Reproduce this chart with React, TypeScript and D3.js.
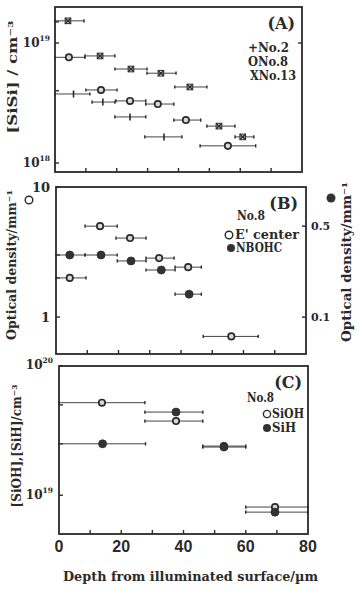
import * as d3 from 'd3'

// depth axis (µm)
const depthTicks = [0, 20, 40, 60, 80]
const depthMinor = [10, 20, 30, 40, 50, 60, 70]

// (A) [SiSi] / cm^-3   x = centre, lo/hi = slab limits
const sisiNo2 = [
  { x: 6, lo: 0, hi: 11.3, y: 3.76e18 },
  { x: 15.5, lo: 12, hi: 19.4, y: 3.22e18 },
  { x: 24.3, lo: 19.4, hi: 29.4, y: 2.42e18 },
  { x: 35.3, lo: 29.1, hi: 41.1, y: 1.65e18 },
]
const sisiNo8 = [
  { x: 4.5, lo: 0, hi: 9.7, y: 7.6e18 },
  { x: 14.9, lo: 10, hi: 20.1, y: 4.06e18 },
  { x: 24.3, lo: 19.7, hi: 29.4, y: 3.29e18 },
  { x: 33.3, lo: 29.4, hi: 38.5, y: 3.1e18 },
  { x: 42.4, lo: 38.5, hi: 47.2, y: 2.28e18 },
  { x: 56, lo: 47, hi: 65, y: 1.39e18 },
]
const sisiNo13 = [
  { x: 4.2, lo: 0, hi: 9.4, y: 1.53e19 },
  { x: 14.6, lo: 9.7, hi: 19.4, y: 7.8e18 },
  { x: 24.6, lo: 19.4, hi: 29.8, y: 6.07e18 },
  { x: 34.3, lo: 29.8, hi: 39.2, y: 5.6e18 },
  { x: 43.7, lo: 38.8, hi: 49.2, y: 4.3e18 },
  { x: 53.1, lo: 49.2, hi: 58.3, y: 2.03e18 },
  { x: 60.8, lo: 58.3, hi: 64.4, y: 1.65e18 },
]
const sisiTicks = [1e18, 1e19]
const sisiMinor = [4e18, 1.5e19]

// (B) optical density / mm^-1
const eCenter = [
  { x: 4.4, lo: 0, hi: 9.6, y: 2.0 },
  { x: 14.1, lo: 9.3, hi: 19.6, y: 5.0 },
  { x: 23.7, lo: 19.2, hi: 28.8, y: 4.05 },
  { x: 33, lo: 28.8, hi: 37.8, y: 2.84 },
  { x: 42.3, lo: 38.1, hi: 46.5, y: 2.42 },
  { x: 56.1, lo: 47.1, hi: 64.7, y: 0.71 },
]
const nbohc = [
  { x: 4.4, lo: 0, hi: 9.3, y: 0.3 },
  { x: 14.4, lo: 9.3, hi: 19.6, y: 0.3 },
  { x: 24, lo: 19.6, hi: 28.8, y: 0.27 },
  { x: 33.7, lo: 28.8, hi: 38.1, y: 0.23 },
  { x: 42.6, lo: 38.1, hi: 46.5, y: 0.15 },
]
const odLeftTicks = [1, 10]
const odLeftMinor = [2, 3]
const odRightTicks = [0.1, 0.5]

// (C) [SiOH], [SiH] / cm^-3
const sioh = [
  { x: 13.8, lo: 0, hi: 27.6, y: 5.2e19 },
  { x: 37.6, lo: 27.6, hi: 46.2, y: 3.75e19 },
  { x: 53, lo: 46.2, hi: 60, y: 2.4e19 },
  { x: 69.4, lo: 60, hi: 80, y: 8.1e18 },
]
const sih = [
  { x: 14, lo: 0, hi: 27.8, y: 2.5e19 },
  { x: 37.6, lo: 27.6, hi: 46.2, y: 4.4e19 },
  { x: 53, lo: 46.2, hi: 60, y: 2.36e19 },
  { x: 69.4, lo: 60, hi: 80, y: 7.4e18 },
]
const ohTicks = [1e19, 1e20]
const ohMinor = [5e19, 2.5e19]

const ink = '#2a2a2a'
const serif = '"DejaVu Serif", "Liberation Serif", serif'

type Pt = { x: number; lo: number; hi: number; y: number }

function Series({ data, x, y, mark }: { data: Pt[]; x: any; y: any; mark: string }) {
  return (
    <g>
      {data.map((d, i) => {
        const cx = x(d.x)
        const cy = y(d.y)
        return (
          <g key={i}>
            <line x1={x(d.lo)} x2={x(d.hi)} y1={cy} y2={cy} stroke="#444" strokeWidth={1} />
            <line x1={x(d.lo)} x2={x(d.lo)} y1={cy - 1.6} y2={cy + 1.6} stroke={ink} strokeWidth={1.4} />
            <line x1={x(d.hi)} x2={x(d.hi)} y1={cy - 1.6} y2={cy + 1.6} stroke={ink} strokeWidth={1.4} />
            {mark === 'plus' && (
              <line x1={cx} x2={cx} y1={cy - 3.5} y2={cy + 3.5} stroke={ink} strokeWidth={1.6} />
            )}
            {mark === 'cross' && (
              <g stroke={ink} strokeWidth={1.4}>
                <rect x={cx - 2.8} y={cy - 2.8} width={5.6} height={5.6} fill="none" strokeWidth={1} />
                <line x1={cx - 2.8} x2={cx + 2.8} y1={cy - 2.8} y2={cy + 2.8} />
                <line x1={cx - 2.8} x2={cx + 2.8} y1={cy + 2.8} y2={cy - 2.8} />
              </g>
            )}
            {mark === 'open' && (
              <circle cx={cx} cy={cy} r={3.2} fill="#d8d8d8" stroke={ink} strokeWidth={1.7} />
            )}
            {mark === 'filled' && <circle cx={cx} cy={cy} r={4} fill="#333" stroke={ink} strokeWidth={0.8} />}
          </g>
        )
      })}
    </g>
  )
}

function Frame({ x, top, bottom, tickLen = 4 }: { x: any; top: number; bottom: number; tickLen?: number }) {
  const [l, r] = x.range()
  return (
    <g>
      <rect x={l} y={top} width={r - l} height={bottom - top} fill="none" stroke={ink} strokeWidth={1.8} />
      {depthMinor.map((t) => (
        <line key={t} x1={x(t)} x2={x(t)} y1={bottom} y2={bottom - tickLen} stroke={ink} strokeWidth={1.4} />
      ))}
    </g>
  )
}

function YTicks({ y, x0, ticks, dir = 1, len = 4 }: { y: any; x0: number; ticks: number[]; dir?: number; len?: number }) {
  return (
    <g>
      {ticks.map((t) => (
        <line key={t} x1={x0} x2={x0 + dir * len} y1={y(t)} y2={y(t)} stroke={ink} strokeWidth={1.4} />
      ))}
    </g>
  )
}

function Pow({ x, y, exp }: { x: number; y: number; exp: string }) {
  return (
    <text x={x} y={y} fontFamily={serif} fontSize={12} fontWeight="bold" fill={ink} textAnchor="end">
      10<tspan dy={-6} fontSize={7.5}>{exp}</tspan>
    </text>
  )
}

export default function App() {
  const xA = d3.scaleLinear().domain([0, 80]).range([55, 302])
  const yA = d3.scaleLog().domain([10 ** 17.925, 10 ** 19.3]).range([172, 7])

  const xB = d3.scaleLinear().domain([0, 80]).range([56, 306])
  const yB = d3.scaleLog().domain([0.52, 10]).range([354, 187])
  const yB2 = d3.scaleLog().domain([0.052, 1]).range([354, 187])

  const xC = d3.scaleLinear().domain([0, 80]).range([59, 308])
  const yC = d3.scaleLog().domain([10 ** 18.7, 10 ** 20]).range([534, 366])

  return (
    <svg
      width={362}
      height={591}
      style={{ position: 'absolute', left: 0, top: 0, background: '#fff' }}
      fontFamily={serif}
    >
      {/* ---------- (A) ---------- */}
      <Frame x={xA} top={7} bottom={172} />
      <YTicks y={yA} x0={55} ticks={[...sisiTicks, ...sisiMinor]} />
      <YTicks y={yA} x0={302} ticks={[1e19]} dir={-1} />
      <Pow x={50} y={yA(1e19) + 4} exp="19" />
      <Pow x={50} y={yA(1e18) + 4} exp="18" />
      <Series data={sisiNo2} x={xA} y={yA} mark="plus" />
      <Series data={sisiNo8} x={xA} y={yA} mark="open" />
      <Series data={sisiNo13} x={xA} y={yA} mark="cross" />
      <text x={295} y={29} fontSize={16} fontWeight="bold" textAnchor="end" fill={ink}>(A)</text>
      <g fontSize={12} fontWeight="bold" fill={ink}>
        <text x={289} y={52} textAnchor="end" textLength={41} lengthAdjust="spacingAndGlyphs">+No.2</text>
        <text x={288} y={66} textAnchor="end" textLength={40} lengthAdjust="spacingAndGlyphs">ONo.8</text>
        <text x={296} y={80} textAnchor="end" textLength={46} lengthAdjust="spacingAndGlyphs">XNo.13</text>
      </g>
      <text
        transform="translate(17,77) rotate(-90)"
        textAnchor="middle"
        fontSize={12}
        fontWeight="bold"
        fill={ink}
        textLength={113}
        lengthAdjust="spacingAndGlyphs"
      >
        [SiSi] / cm⁻³
      </text>

      {/* ---------- (B) ---------- */}
      <Frame x={xB} top={187} bottom={354} />
      <YTicks y={yB} x0={56} ticks={[...odLeftTicks, ...odLeftMinor]} />
      <YTicks y={yB2} x0={306} ticks={odRightTicks} dir={-1} />
      {odLeftTicks.map((t) => (
        <text key={t} x={50} y={yB(t) + 5} fontSize={13} fontWeight="bold" textAnchor="end" fill={ink}>
          {t}
        </text>
      ))}
      {odRightTicks.map((t) => (
        <text key={t} x={311} y={yB2(t) + 4} fontSize={11} fontWeight="bold" fill={ink}>
          {t}
        </text>
      ))}
      <Series data={eCenter} x={xB} y={yB} mark="open" />
      <Series data={nbohc} x={xB} y={yB2} mark="filled" />
      <text x={298} y={209} fontSize={16} fontWeight="bold" textAnchor="end" fill={ink}>(B)</text>
      <g fontSize={12} fontWeight="bold" fill={ink}>
        <text x={237} y={220} textLength={28} lengthAdjust="spacingAndGlyphs">No.8</text>
        <circle cx={229} cy={235} r={3.8} fill="#fff" stroke={ink} strokeWidth={1.4} />
        <text x={235} y={239} textLength={64} lengthAdjust="spacingAndGlyphs">E' center</text>
        <circle cx={231} cy={248} r={4} fill="#333" />
        <text x={236} y={252} textLength={46} lengthAdjust="spacingAndGlyphs">NBOHC</text>
      </g>
      <circle cx={29} cy={200} r={3.8} fill="#fff" stroke={ink} strokeWidth={1.4} />
      <text
        transform="translate(16,265) rotate(-90)"
        textAnchor="middle"
        fontSize={12}
        fontWeight="bold"
        fill={ink}
        textLength={150}
        lengthAdjust="spacingAndGlyphs"
      >
        Optical density/mm⁻¹
      </text>
      <circle cx={331} cy={198} r={4.5} fill="#333" />
      <text
        transform="translate(351,262) rotate(-90)"
        textAnchor="middle"
        fontSize={12}
        fontWeight="bold"
        fill={ink}
        textLength={160}
        lengthAdjust="spacingAndGlyphs"
      >
        Optical density/mm⁻¹
      </text>

      {/* ---------- (C) ---------- */}
      <Frame x={xC} top={366} bottom={534} />
      <YTicks y={yC} x0={59} ticks={[...ohTicks, ...ohMinor]} />
      <Pow x={53} y={yC(1e20) + 3} exp="20" />
      <Pow x={53} y={yC(1e19) + 4} exp="19" />
      <Series data={sioh} x={xC} y={yC} mark="open" />
      <Series data={sih} x={xC} y={yC} mark="filled" />
      <text x={302} y={388} fontSize={16} fontWeight="bold" textAnchor="end" fill={ink}>(C)</text>
      <g fontSize={12} fontWeight="bold" fill={ink}>
        <text x={247} y={402} textLength={27} lengthAdjust="spacingAndGlyphs">No.8</text>
        <circle cx={267} cy={414} r={3.6} fill="#fff" stroke={ink} strokeWidth={1.4} />
        <text x={272} y={418} textLength={32} lengthAdjust="spacingAndGlyphs">SiOH</text>
        <circle cx={267} cy={428} r={4} fill="#333" />
        <text x={272} y={432} textLength={24} lengthAdjust="spacingAndGlyphs">SiH</text>
      </g>
      <text
        transform="translate(21,446) rotate(-90)"
        textAnchor="middle"
        fontSize={12}
        fontWeight="bold"
        fill={ink}
        textLength={123}
        lengthAdjust="spacingAndGlyphs"
      >
        [SiOH],[SiH]/cm⁻³
      </text>
      {depthTicks.map((t) => (
        <text
          key={t}
          x={xC(t)}
          y={552}
          textAnchor="middle"
          fontFamily='"Liberation Sans", Arial, sans-serif'
          fontWeight="bold"
          fontSize={16}
          fill={ink}
        >
          {t}
        </text>
      ))}
      <text
        x={190.5}
        y={581}
        textAnchor="middle"
        fontSize={12}
        fontWeight="bold"
        fill={ink}
        textLength={255}
        lengthAdjust="spacingAndGlyphs"
      >
        Depth from illuminated surface/µm
      </text>
    </svg>
  )
}
